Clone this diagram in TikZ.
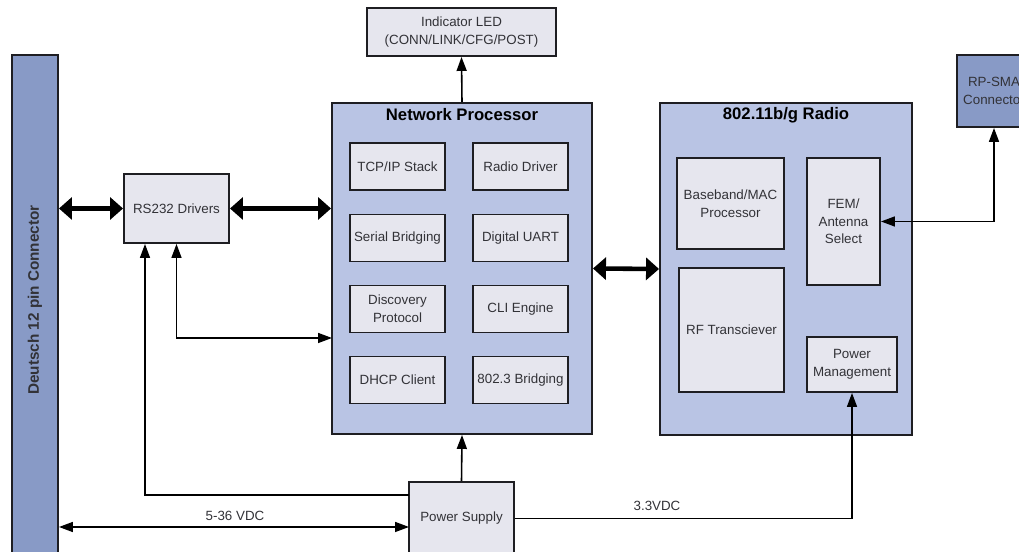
\documentclass[tikz,border=0pt]{standalone}
\usepackage{fontspec}
\setmainfont{Liberation Sans}
\usetikzlibrary{arrows.meta}

\definecolor{procblue}{RGB}{185,196,228}
\definecolor{connblue}{RGB}{136,154,198}
\definecolor{subgray}{RGB}{230,230,238}
\definecolor{edge}{RGB}{30,30,34}
\definecolor{txt}{RGB}{50,50,55}

\begin{document}
\begin{tikzpicture}[
  box/.style={draw=edge, line width=1.1pt, fill=subgray, text=txt, align=center,
    inner sep=0pt, font=\fontsize{7.6}{10}\selectfont},
  bigbox/.style={draw=edge, line width=1.1pt, fill=procblue, inner sep=0pt},
  connbox/.style={draw=edge, line width=1.1pt, fill=connblue, text=txt, align=center,
    inner sep=0pt, font=\fontsize{7.6}{10}\selectfont},
  title/.style={font=\fontsize{9.5}{11}\selectfont\bfseries, text=black},
  fat/.style={line width=2.6pt, {Triangle[length=2.6mm,width=4.4mm]}-{Triangle[length=2.6mm,width=4.4mm]}},
  arr/.style={line width=0.9pt, -{Triangle[length=2.8mm,width=2mm]}},
  arrr/.style={line width=0.9pt, {Triangle[length=2.8mm,width=2mm]}-{Triangle[length=2.8mm,width=2mm]}},
  lbl/.style={font=\fontsize{7.6}{9}\selectfont, text=txt}
]
\useasboundingbox (0,0) rectangle (20.38,11.04);
\clip (0,0) rectangle (20.38,11.04);

% connectors at the edges
\node [connbox, minimum width=0.92cm, minimum height=10.04cm] (deutsch) at (0.70,4.92) {};
\node [rotate=90, font=\fontsize{8.7}{10}\selectfont\bfseries, text=txt] (deutschlbl) at (0.70,5.04) {Deutsch 12 pin Connector};
\node [connbox, minimum width=1.48cm, minimum height=1.44cm] (rpsma) at (19.88,9.22) {RP-SMA\\Connector};

\node [box, minimum width=2.10cm, minimum height=1.38cm] (rs) at (3.53,6.87) {RS232 Drivers};
\node [box, minimum width=3.78cm, minimum height=0.96cm] (led) at (9.23,10.40) {Indicator LED\\(CONN/LINK/CFG/POST)};
\node [box, minimum width=2.10cm, minimum height=1.46cm] (ps) at (9.23,0.67) {Power Supply};

% network processor
\node [bigbox, minimum width=5.20cm, minimum height=6.62cm] (np) at (9.24,5.67) {};
\node [title] (nptitle) at (9.24,8.74) {Network Processor};
\node [box, minimum width=1.90cm, minimum height=0.94cm] (tcp) at (7.95,7.71) {TCP/IP Stack};
\node [box, minimum width=1.90cm, minimum height=0.94cm] (rdrv) at (10.41,7.71) {Radio Driver};
\node [box, minimum width=1.90cm, minimum height=0.94cm] (serial) at (7.95,6.28) {Serial Bridging};
\node [box, minimum width=1.90cm, minimum height=0.94cm] (uart) at (10.41,6.28) {Digital UART};
\node [box, minimum width=1.90cm, minimum height=0.94cm] (disc) at (7.95,4.86) {Discovery\\Protocol};
\node [box, minimum width=1.90cm, minimum height=0.94cm] (cli) at (10.41,4.86) {CLI Engine};
\node [box, minimum width=1.90cm, minimum height=0.94cm] (dhcp) at (7.95,3.44) {DHCP Client};
\node [box, minimum width=1.90cm, minimum height=0.94cm] (bridge) at (10.41,3.44) {802.3 Bridging};

% radio
\node [bigbox, minimum width=5.04cm, minimum height=6.64cm] (radio) at (15.72,5.66) {};
\node [title] (radiotitle) at (15.72,8.74) {802.11b/g Radio};
\node [box, minimum width=2.14cm, minimum height=1.82cm] (mac) at (14.61,6.97) {Baseband/MAC\\Processor};
\node [box, minimum width=2.10cm, minimum height=2.48cm] (rf) at (14.63,4.44) {RF Transciever};
\node [box, minimum width=1.46cm, minimum height=2.54cm] (fem) at (16.87,6.61) {FEM/\\Antenna\\Select};
\node [box, minimum width=1.80cm, minimum height=1.10cm] (pm) at (17.04,3.75) {Power\\Management};

% data paths
\draw [fat] (deutsch.east |- rs.west) -- (rs.west);
\draw [fat] (rs.east) -- (rs.east -| np.west);
\draw [fat] (np.east) -- (radio.west);
\draw [arr] (np.north) -- (led.south);
\draw [arrr] (rs.south) |- (6.64,4.28) coordinate (npin);
\draw [arrr] (fem.east) -| (rpsma.south);

% power
\coordinate (pstap) at (8.18,1.14);
\coordinate (psin) at (8.18,0.50);
\draw [arr] (ps.north) -- (np.south);
\draw [arr] (pstap) -| ([xshift=-0.63cm]rs.south);
\draw [arrr] (deutsch.east |- psin) -- (psin);
\draw [arr] (ps.east) -| (pm.south);
\node [lbl] (vin) at (4.70,0.72) {5-36 VDC};
\node [lbl] (vout) at (13.14,0.92) {3.3VDC};
\end{tikzpicture}
\end{document}
